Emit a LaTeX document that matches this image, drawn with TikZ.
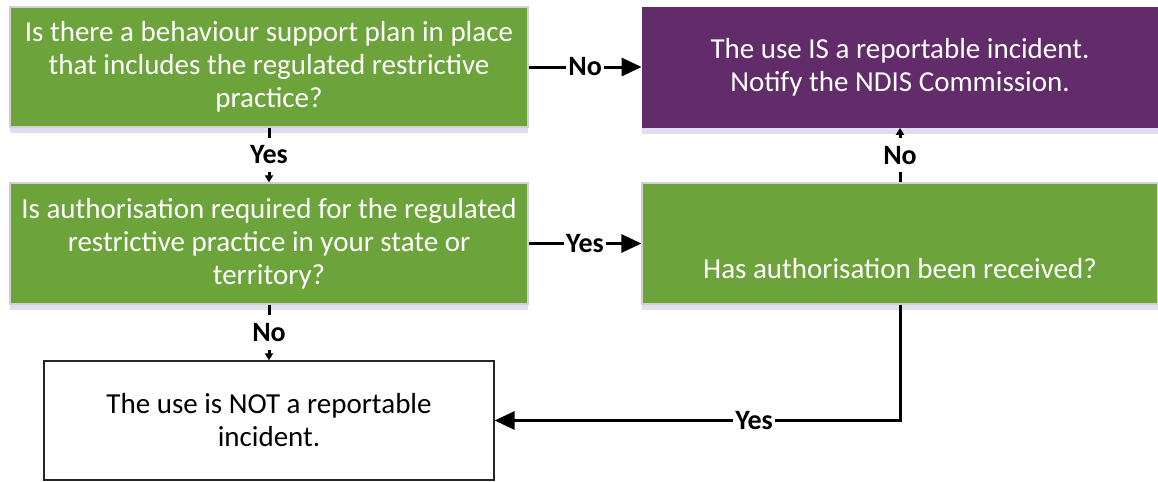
\documentclass[tikz,border=0pt]{standalone}
\usepackage{fontspec}
\setmainfont{Carlito}
\usetikzlibrary{arrows.meta,shadows}
\definecolor{flowgreen}{HTML}{6CA33A}
\definecolor{flowpurple}{HTML}{612C69}

\begin{document}
\begin{tikzpicture}[x=0.5pt,y=-0.5pt,
    every node/.style={font=\fontsize{14.5}{16.5}\selectfont,align=center},
    boxshadow/.style={drop shadow={shadow xshift=0pt,shadow yshift=-3pt,opacity=0.18,fill=blue!40!gray}},
    question/.style={rectangle,fill=flowgreen,draw=black!18,line width=0.6pt,text=white,inner sep=0pt,boxshadow},
    outcome/.style={rectangle,fill=flowpurple,text=white,inner sep=0pt,boxshadow},
    plainbox/.style={rectangle,fill=white,draw=black!85,line width=0.6pt,inner sep=0pt},
    lbl/.style={fill=white,font=\bfseries\fontsize{14}{15}\selectfont,inner sep=1pt},
    vlbl/.style={fill=white,font=\bfseries\fontsize{14}{15}\selectfont,inner xsep=1pt,inner ysep=4pt},
    bigarrow/.style={line width=1.5pt,-{Triangle[length=10pt,width=9pt]}},
    smallarrow/.style={line width=1.5pt,-{Triangle[length=3.5pt,width=4pt]}}]
    \useasboundingbox (0,0) rectangle (1158,482);

    \node[question,minimum width=259pt,minimum height=60pt] (plan) at (269,67)
        {Is there a behaviour support plan in place\\that includes the regulated restrictive\\practice?};
    \node[outcome,minimum width=258pt,minimum height=60.5pt] (report) at (900,67)
        {The use IS a reportable incident.\\Notify the NDIS Commission.};
    \node[question,minimum width=259pt,minimum height=60.5pt] (auth) at (269,243.5)
        {Is authorisation required for the regulated\\restrictive practice in your state or\\territory?};
    \node[question,minimum width=258pt,minimum height=60.5pt] (received) at (900,243.5)
        {{}\\[19pt]Has authorisation been received?};
    \node[plainbox,minimum width=225pt,minimum height=59.5pt] (notrep) at (269,420.5)
        {The use is NOT a reportable\\incident.};

    \draw[bigarrow] (plan) -- node[lbl] {No} (report);
    \draw[bigarrow] (auth) -- node[lbl] {Yes} (received);
    \draw[smallarrow] (plan) -- node[vlbl] {Yes} (auth);
    \draw[smallarrow] (received) -- node[vlbl] {No} (report);
    \draw[smallarrow] (auth) -- node[vlbl] {No} (notrep);
    \draw[bigarrow] (received.south) |- node[lbl,pos=0.68] {Yes} (notrep.east);

\end{tikzpicture}
\end{document}
